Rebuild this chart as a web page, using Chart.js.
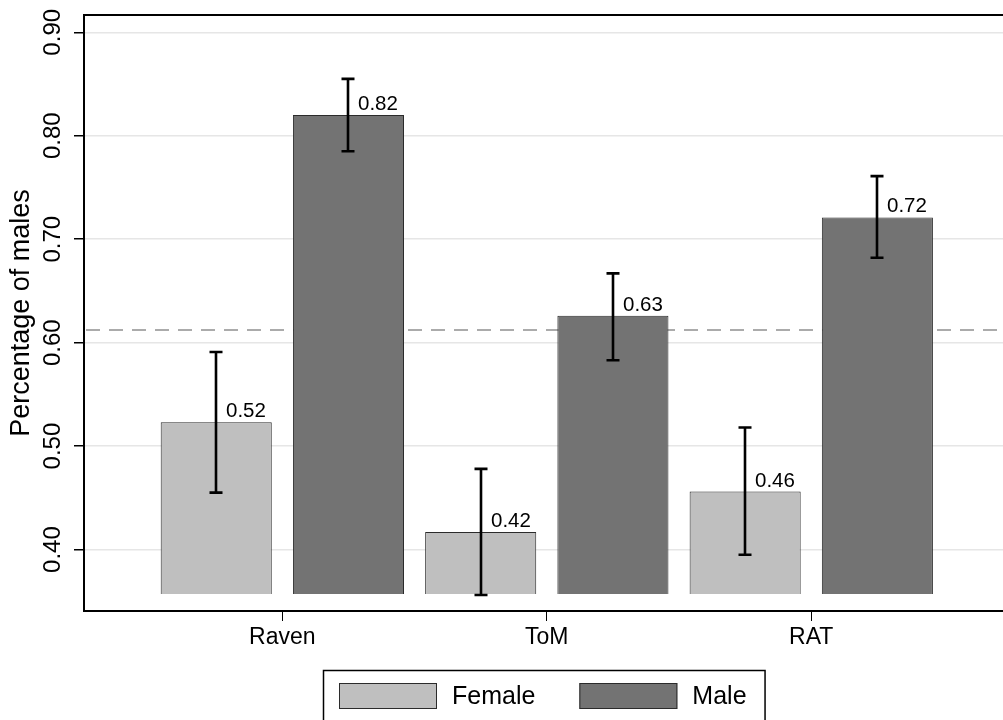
<!DOCTYPE html>
<html>
<head>
<meta charset="utf-8">
<script src="https://cdn.jsdelivr.net/npm/chart.js@4.4.1/dist/chart.umd.min.js"></script>
<style>
  html, body { margin: 0; padding: 0; background: #ffffff; overflow: hidden; }
  #wrap { width: 1003px; height: 720px; }
</style>
</head>
<body>
<div id="wrap"><canvas id="c" width="1003" height="720"></canvas></div>
<script>
// Share of males by test and group
const categories = ['Raven', 'ToM', 'RAT'];
const seriesNames = ['Female', 'Male'];
const femaleValues = [0.523, 0.417, 0.456];
const maleValues = [0.820, 0.626, 0.721];
const femaleLow = [0.455, 0.356, 0.395];
const femaleHigh = [0.591, 0.478, 0.518];
const maleLow = [0.785, 0.583, 0.682];
const maleHigh = [0.855, 0.667, 0.761];
const yTickValues = [0.40, 0.50, 0.60, 0.70, 0.80, 0.90];
const barBase = 0.357;
const overallShare = 0.612;
const yMin = 0.3406;
const yMax = 0.9167;

const FONT = '"Liberation Sans", Arial, Helvetica, sans-serif';
const fills = ['#bfbfbf', '#737373'];
const seriesValues = [femaleValues, maleValues];
const errorSets = [
  { low: femaleLow, high: femaleHigh },
  { low: maleLow, high: maleHigh }
];

// female bars sit at odd slots, male bars right next to them
function barPoints(values, offset) {
  return values.map((v, i) => ({ x: 2 * i + offset, y: [barBase, v] }));
}

const decor = {
  id: 'decor',
  beforeDatasetsDraw(chart) {
    const { ctx, chartArea: a, scales: { y } } = chart;
    const py = Math.round(y.getPixelForValue(overallShare));
    ctx.save();
    ctx.strokeStyle = '#ababab';
    ctx.lineWidth = 2;
    ctx.setLineDash([14, 9]);
    ctx.beginPath();
    ctx.moveTo(a.left + 2, py);
    ctx.lineTo(a.right, py);
    ctx.stroke();
    ctx.restore();
  },
  afterDatasetsDraw(chart) {
    const { ctx, scales: { x, y } } = chart;
    ctx.save();
    chart.data.datasets.forEach((ds, d) => {
      const errs = errorSets[d];
      ds.data.forEach((pt, i) => {
        const px = Math.round(x.getPixelForValue(pt.x));
        const top = y.getPixelForValue(errs.high[i]);
        const bot = y.getPixelForValue(errs.low[i]);
        ctx.strokeStyle = '#000';
        ctx.lineWidth = 2.6;
        ctx.setLineDash([]);
        ctx.beginPath();
        ctx.moveTo(px, top); ctx.lineTo(px, bot);
        ctx.moveTo(px - 6.5, top); ctx.lineTo(px + 6.5, top);
        ctx.moveTo(px - 6.5, bot); ctx.lineTo(px + 6.5, bot);
        ctx.stroke();

        const v = seriesValues[d][i];
        ctx.fillStyle = '#000';
        ctx.font = '20.5px ' + FONT;
        ctx.textAlign = 'left';
        ctx.textBaseline = 'alphabetic';
        ctx.fillText(v.toFixed(2), px + 10, y.getPixelForValue(v) - 5);
      });
    });
    ctx.restore();
  },
  afterDraw(chart) {
    const { ctx, chartArea: a, scales: { y } } = chart;
    ctx.save();

    // frame line along the top of the plot region
    ctx.strokeStyle = '#000';
    ctx.lineWidth = 2;
    ctx.beginPath();
    ctx.moveTo(a.left - 1, a.top);
    ctx.lineTo(a.right, a.top);
    ctx.stroke();

    // rotated y tick labels
    ctx.fillStyle = '#000';
    ctx.font = '24px ' + FONT;
    ctx.textAlign = 'center';
    ctx.textBaseline = 'middle';
    y.ticks.forEach(t => {
      const py = y.getPixelForValue(t.value);
      ctx.save();
      ctx.translate(53, py);
      ctx.rotate(-Math.PI / 2);
      ctx.fillText(t.value.toFixed(2), 0, 0);
      ctx.restore();
    });

    // y axis title
    ctx.save();
    ctx.font = '27px ' + FONT;
    ctx.translate(22, (a.top + a.bottom) / 2);
    ctx.rotate(-Math.PI / 2);
    ctx.fillText('Percentage of males', 0, 0);
    ctx.restore();

    // legend with framed box below the axis
    ctx.font = '25px ' + FONT;
    ctx.textAlign = 'left';
    const swW = 98, swH = 26, padL = 16, padR = 18, gapText = 15, gapItem = 44;
    const widths = chart.data.datasets.map(ds => ctx.measureText(ds.label).width);
    let total = padL + padR;
    widths.forEach((w, i) => { total += swW + gapText + w + (i > 0 ? gapItem : 0); });
    const boxL = Math.round((a.left + a.right) / 2 - total / 2);
    const boxT = 670;
    ctx.strokeStyle = '#000';
    ctx.lineWidth = 1.5;
    ctx.strokeRect(boxL + 0.5, boxT + 0.5, total, 80);
    let cx = boxL + padL;
    chart.data.datasets.forEach((ds, i) => {
      ctx.fillStyle = ds.backgroundColor;
      ctx.fillRect(cx, boxT + 13, swW, swH);
      ctx.strokeStyle = '#2b2b2b';
      ctx.lineWidth = 1;
      ctx.strokeRect(cx + 0.5, boxT + 13.5, swW - 1, swH - 1);
      ctx.fillStyle = '#000';
      ctx.textBaseline = 'middle';
      ctx.fillText(ds.label, cx + swW + gapText, boxT + 13 + swH / 2 + 1);
      cx += swW + gapText + widths[i] + gapItem;
    });
    ctx.restore();
  }
};

new Chart(document.getElementById('c'), {
  type: 'bar',
  data: {
    datasets: [
      { label: seriesNames[0], data: barPoints(femaleValues, 1), backgroundColor: fills[0], borderColor: '#2b2b2b', borderWidth: 1 },
      { label: seriesNames[1], data: barPoints(maleValues, 2), backgroundColor: fills[1], borderColor: '#2b2b2b', borderWidth: 1 }
    ]
  },
  options: {
    responsive: false,
    animation: false,
    devicePixelRatio: 1,
    layout: { padding: { top: 15, left: 0, right: 0, bottom: 0 } },
    datasets: { bar: { grouped: false, categoryPercentage: 1, barPercentage: 0.84 } },
    plugins: { legend: { display: false }, tooltip: { enabled: false } },
    scales: {
      x: {
        type: 'linear',
        min: 0,
        max: 6.95,
        offset: false,
        afterBuildTicks: s => { s.ticks = categories.map((c, i) => ({ value: 2 * i + 1.5 })); },
        afterFit: s => { s.height = 109; },
        ticks: {
          callback: (v, i) => categories[i],
          font: { family: FONT, size: 23 },
          color: '#000',
          padding: 3,
          maxRotation: 0,
          autoSkip: false
        },
        grid: { offset: false, drawOnChartArea: false, drawTicks: true, tickLength: 10, tickColor: '#000', tickWidth: 1 },
        border: { display: true, color: '#000', width: 2 }
      },
      y: {
        min: yMin,
        max: yMax,
        afterBuildTicks: s => { s.ticks = yTickValues.map(v => ({ value: v })); },
        afterFit: s => { s.width = 84; },
        ticks: { display: false },
        grid: { color: '#e6e6e6', lineWidth: 1.5, drawTicks: true, tickLength: 10, tickColor: '#000', tickWidth: 1.5 },
        border: { display: true, color: '#000', width: 2 }
      }
    }
  },
  plugins: [decor]
});
</script>
</body>
</html>
